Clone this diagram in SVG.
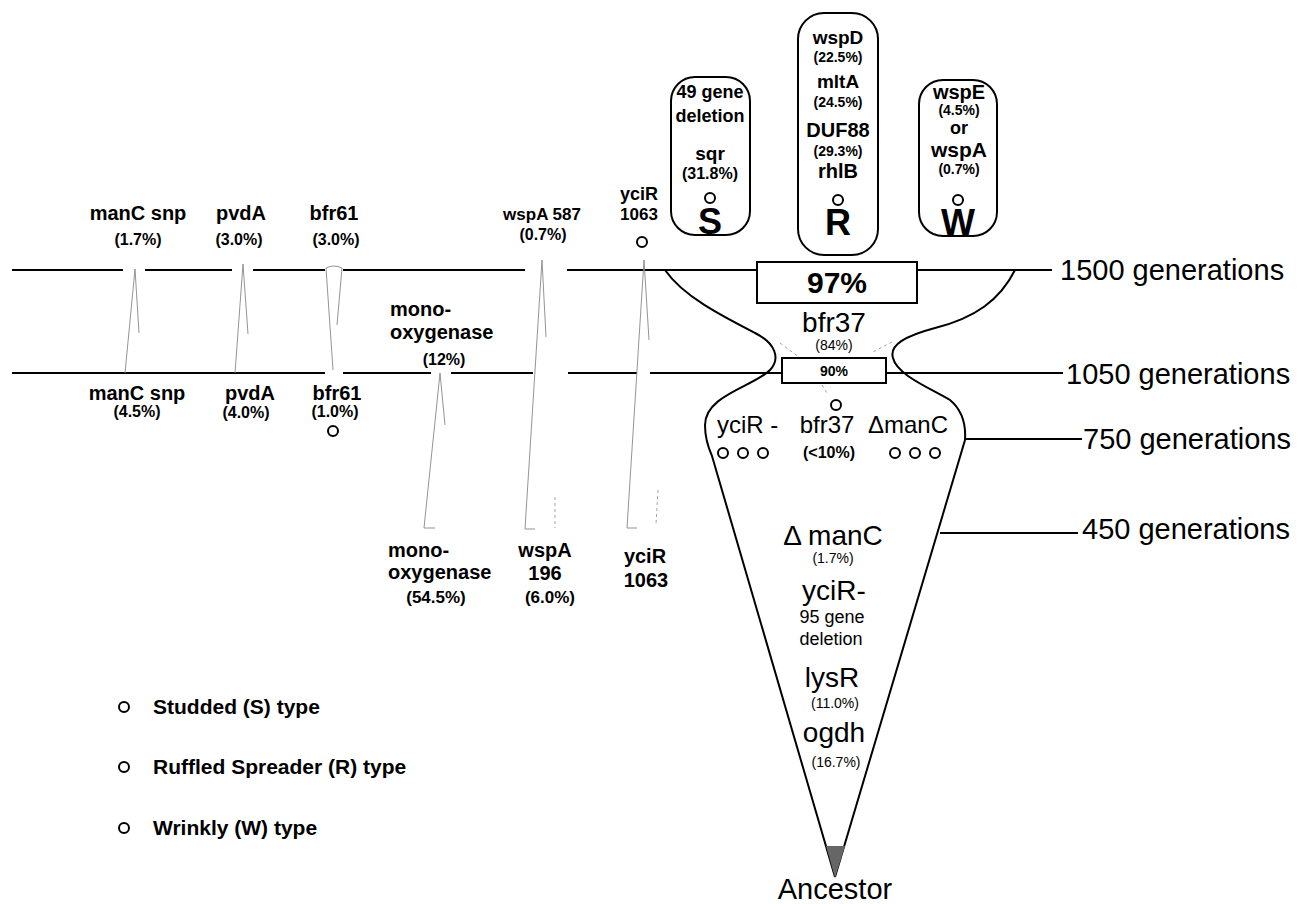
<svg xmlns="http://www.w3.org/2000/svg" width="1309" height="904" viewBox="0 0 1309 904">
<style>
text{font-family:"Liberation Sans",Arial,Helvetica,sans-serif;fill:#000}
.b{font-weight:bold}
.m{text-anchor:middle}
.l20{font-size:20px;font-weight:bold}
.p16{font-size:16px;font-weight:bold}
.gen{font-size:29px}
.ln{stroke:#000;stroke-width:2;fill:none}
.thin{stroke:#888;stroke-width:0.9;fill:none}
.dash{stroke:#999;stroke-width:0.9;fill:none;stroke-dasharray:3 3}
.dot{fill:none;stroke:#000;stroke-width:2}
.box{fill:#fff;stroke:#000;stroke-width:2}
</style>
<rect width="1309" height="904" fill="#fff"/>

<g id="connectors">
  <path class="ln" d="M12,270 H123 M145,270 H232 M253,270 H325 M343,270 H525 M567,270 H757 M917,270 H1052"/>
  <path class="ln" d="M12,373 H325 M343,373 H431 M451,373 H533 M568,373 H637 M650,373 H782 M886,373 H1063"/>
  <path class="ln" d="M965,439 H1082"/>
  <path class="ln" d="M940,533 H1078"/>
  <path id="funnel-left" class="ln" stroke-width="2.2" d="M665,270 C683,296 720,315 755,333 C775,343 781,358 770,370 C755,386 705,395 705,425 C705,438 708,447 712,456 L835,877"/>
  <path id="funnel-right" class="ln" stroke-width="3.2" d="M1015,270 C1000,300 975,318 935,328 C905,336 889,345 893,358 C897,375 930,388 950,400 C962,410 966,425 965,440 L835,877"/>
  <path d="M826,846 L845,846 L835,878 Z" fill="#666"/>
  <path class="thin" d="M125,373 L135,269 L139,333"/>
  <path class="thin" d="M235,373 L243,264 L248,334"/>
  <path class="thin" d="M333,370 L326,268 Q334,264 342,268 L337,325"/>
  <path class="thin" d="M435,528 H424 L440,373 L445,425"/>
  <path class="thin" d="M535,529 H525 L542,260 L546,337"/>
  <path class="thin" d="M637,528 H627 L644,260 L649,340"/>
  <path class="dash" d="M555,497 L555,528"/>
  <path class="dash" d="M658,490 L656,524"/>
  <path class="dash" d="M780,343 L803,360 M892,342 L873,352 M853,365 L843,383 M822,385 L827,393"/>
</g>

<g id="node-97">
  <rect class="box" x="757" y="262" width="160" height="41"/>
  <text class="b m" x="837" y="293" font-size="30">97%</text>
</g>
<g id="node-90">
  <rect class="box" x="782" y="358" width="104" height="25"/>
  <text class="b m" x="834" y="376" font-size="14">90%</text>
</g>

<g id="node-S">
  <rect class="box" x="671" y="77" width="79" height="158" rx="24"/>
  <text class="b m" x="710" y="98" font-size="18">49 gene</text>
  <text class="b m" x="710" y="122" font-size="18">deletion</text>
  <text class="b m" x="710" y="160" font-size="19">sqr</text>
  <text class="b m" x="710" y="179" font-size="16">(31.8%)</text>
  <circle class="dot" cx="710" cy="198" r="5"/>
  <text class="b m" x="710" y="234" font-size="36">S</text>
</g>
<g id="node-R">
  <rect class="box" x="798" y="13" width="80" height="242" rx="26"/>
  <text class="b m" x="838" y="44" font-size="19">wspD</text>
  <text class="b m" x="838" y="62" font-size="14">(22.5%)</text>
  <text class="b m" x="838" y="88" font-size="19">mltA</text>
  <text class="b m" x="838" y="107" font-size="14">(24.5%)</text>
  <text class="b m" x="838" y="137" font-size="20">DUF88</text>
  <text class="b m" x="838" y="156" font-size="14">(29.3%)</text>
  <text class="b m" x="838" y="178" font-size="20">rhlB</text>
  <circle class="dot" cx="838" cy="200" r="5"/>
  <text class="b m" x="838" y="235" font-size="36">R</text>
</g>
<g id="node-W">
  <rect class="box" x="919" y="80" width="78" height="156" rx="24"/>
  <text class="b m" x="959" y="99" font-size="20">wspE</text>
  <text class="b m" x="959" y="115" font-size="14">(4.5%)</text>
  <text class="b m" x="959" y="134" font-size="18">or</text>
  <text class="b m" x="959" y="157" font-size="21">wspA</text>
  <text class="b m" x="959" y="174" font-size="14">(0.7%)</text>
  <circle class="dot" cx="958" cy="200" r="5"/>
  <text class="b m" x="958" y="235" font-size="36">W</text>
</g>

<g id="node-bfr37-top">
  <text class="m" x="834" y="332" font-size="28">bfr37</text>
  <text class="m" x="834" y="350" font-size="14">(84%)</text>
</g>
<g id="node-750">
  <circle class="dot" cx="836" cy="405" r="5"/>
  <text x="717" y="433" font-size="24">yciR -</text>
  <text class="m" x="827" y="433" font-size="24">bfr37</text>
  <text class="m" x="908" y="433" font-size="24">ΔmanC</text>
  <circle class="dot" cx="723" cy="453" r="5"/>
  <circle class="dot" cx="743" cy="453" r="5"/>
  <circle class="dot" cx="763" cy="453" r="5"/>
  <text class="b m" x="829" y="458" font-size="16">(&lt;10%)</text>
  <circle class="dot" cx="895" cy="453" r="5"/>
  <circle class="dot" cx="915" cy="453" r="5"/>
  <circle class="dot" cx="935" cy="453" r="5"/>
</g>
<g id="node-early">
  <text class="m" x="833" y="545" font-size="28">Δ manC</text>
  <text class="m" x="833" y="563" font-size="14">(1.7%)</text>
  <text class="m" x="834" y="600" font-size="28">yciR-</text>
  <text class="m" x="832" y="623" font-size="18">95 gene</text>
  <text class="m" x="831" y="645" font-size="18">deletion</text>
  <text class="m" x="832" y="687" font-size="28">lysR</text>
  <text class="m" x="835" y="708" font-size="14">(11.0%)</text>
  <text class="m" x="834" y="742" font-size="28">ogdh</text>
  <text class="m" x="836" y="767" font-size="14">(16.7%)</text>
</g>
<g id="node-ancestor">
  <text class="m" x="835" y="899" font-size="29">Ancestor</text>
</g>

<g id="node-manC">
  <text class="l20 m" x="138" y="220">manC snp</text>
  <text class="p16 m" x="138" y="245">(1.7%)</text>
  <text class="l20 m" x="137" y="400">manC snp</text>
  <text class="p16 m" x="137" y="417">(4.5%)</text>
</g>
<g id="node-pvdA">
  <text class="l20 m" x="241" y="220">pvdA</text>
  <text class="p16 m" x="239" y="245">(3.0%)</text>
  <text class="l20 m" x="250" y="400">pvdA</text>
  <text class="p16 m" x="246" y="418">(4.0%)</text>
</g>
<g id="node-bfr61">
  <text class="l20 m" x="334" y="220">bfr61</text>
  <text class="p16 m" x="336" y="245">(3.0%)</text>
  <text class="l20 m" x="337" y="400">bfr61</text>
  <text class="p16 m" x="335" y="417">(1.0%)</text>
  <circle class="dot" cx="333" cy="431" r="5"/>
</g>
<g id="node-mono">
  <text class="l20" x="390" y="316">mono-</text>
  <text class="l20" x="390" y="339">oxygenase</text>
  <text class="p16 m" x="444" y="365">(12%)</text>
  <text class="l20" x="388" y="557">mono-</text>
  <text class="l20" x="388" y="579">oxygenase</text>
  <text class="b m" x="436" y="603" font-size="17">(54.5%)</text>
</g>
<g id="node-wspA">
  <text class="b m" x="542" y="220" font-size="17">wspA 587</text>
  <text class="p16 m" x="543" y="240">(0.7%)</text>
  <text class="l20 m" x="545" y="557" font-size="21">wspA</text>
  <text class="l20 m" x="545" y="580" font-size="21">196</text>
  <text class="b m" x="550" y="603" font-size="17">(6.0%)</text>
</g>
<g id="node-yciR">
  <text class="b m" x="639" y="200" font-size="18">yciR</text>
  <text class="b m" x="639" y="220" font-size="17">1063</text>
  <circle class="dot" cx="642" cy="242" r="5"/>
  <text class="l20 m" x="645" y="563" font-size="21">yciR</text>
  <text class="l20 m" x="646" y="587" font-size="21">1063</text>
</g>

<g id="gen-labels">
  <text class="gen" x="1060" y="280">1500 generations</text>
  <text class="gen" x="1066" y="384">1050 generations</text>
  <text class="gen" x="1083" y="449">750 generations</text>
  <text class="gen" x="1082" y="539">450 generations</text>
</g>

<g id="legend">
  <circle class="dot" cx="124" cy="707" r="5"/>
  <text class="b" x="153" y="714" font-size="21">Studded (S) type</text>
  <circle class="dot" cx="124" cy="767" r="5"/>
  <text class="b" x="153" y="774" font-size="21">Ruffled Spreader (R) type</text>
  <circle class="dot" cx="124" cy="828" r="5"/>
  <text class="b" x="153" y="835" font-size="21">Wrinkly (W) type</text>
</g>
</svg>
